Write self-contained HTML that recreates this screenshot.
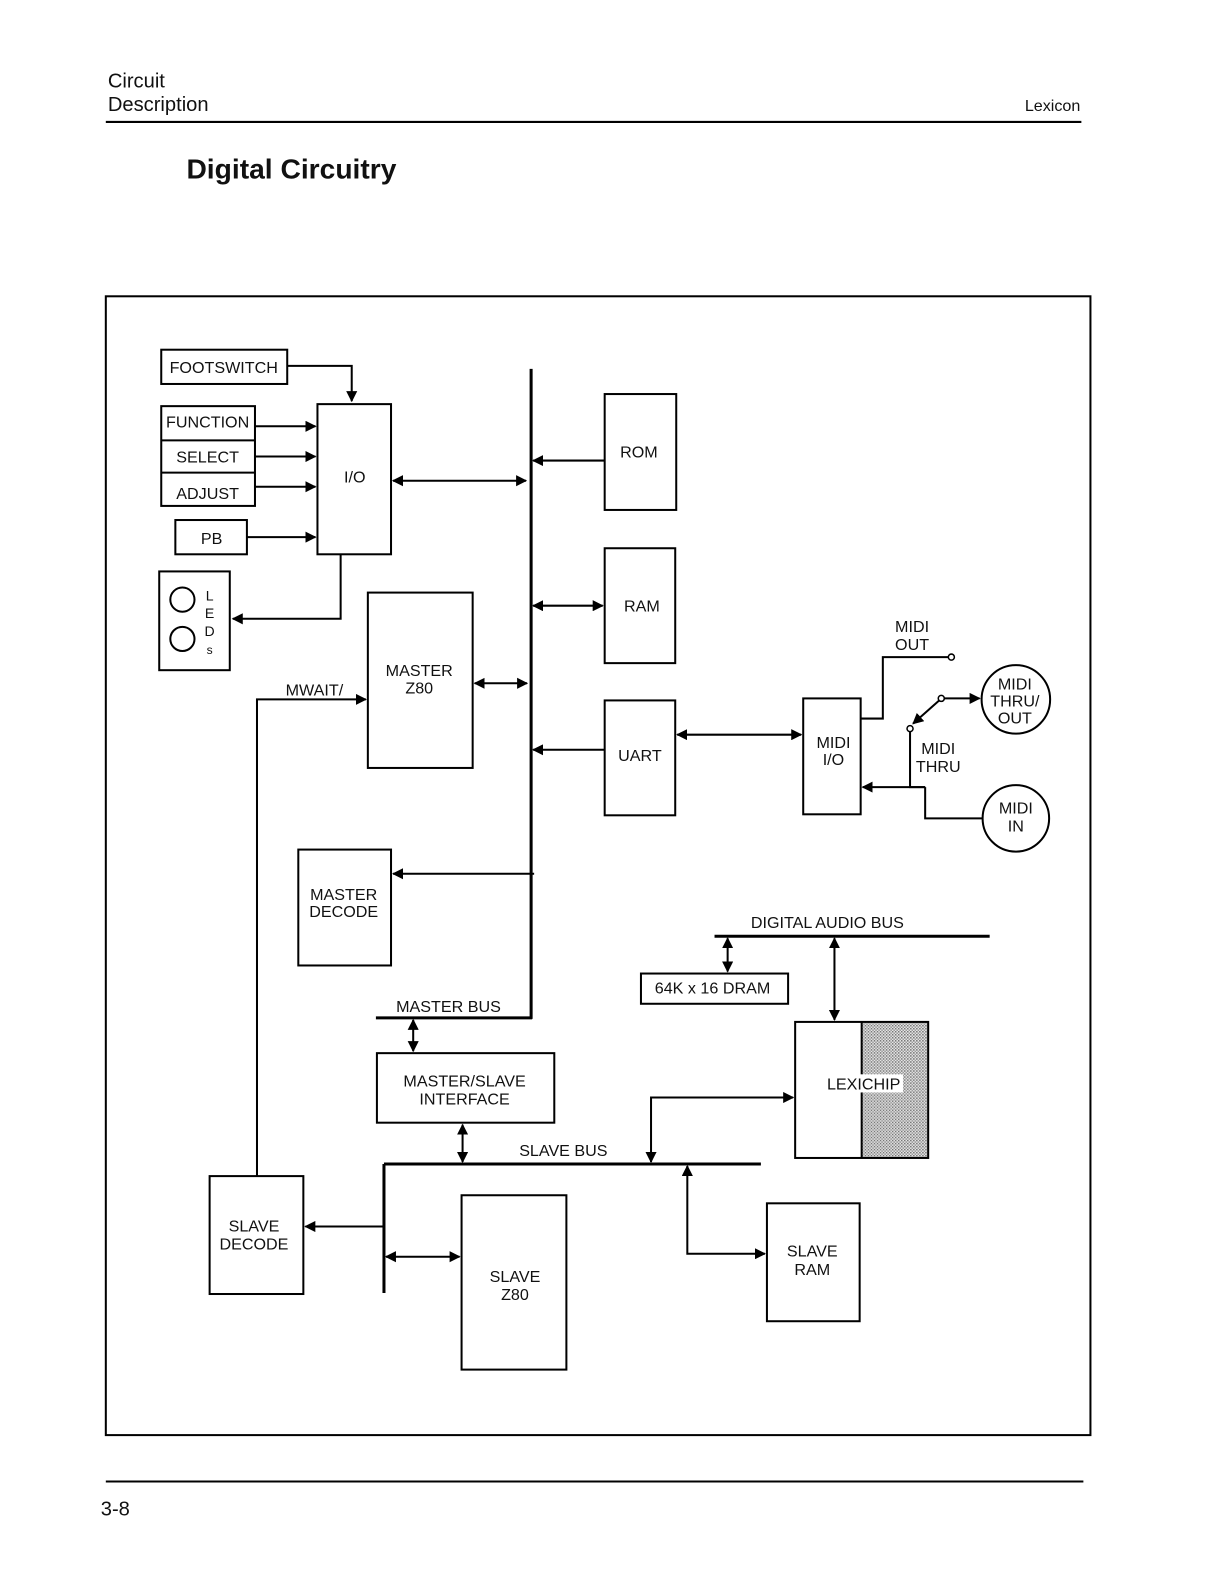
<!DOCTYPE html>
<html><head><style>html,body{margin:0;padding:0;background:#fff;overflow:hidden;width:1222px;height:1580px}svg{display:block}</style></head><body>
<svg width="1222" height="1580" viewBox="0 0 1222 1580" xmlns="http://www.w3.org/2000/svg" font-family="Liberation Sans, sans-serif">
<defs>
<marker id="a" viewBox="0 0 10 10" refX="9" refY="5" markerWidth="11" markerHeight="11" markerUnits="userSpaceOnUse" orient="auto-start-reverse"><path d="M0,0L10,5L0,10z" fill="#000"/></marker>
<pattern id="dots" width="3" height="3" patternUnits="userSpaceOnUse"><rect width="3" height="3" fill="#e6e6e6"/><rect width="1.5" height="1.5" fill="#777"/><rect x="1.5" y="1.5" width="1.5" height="1.5" fill="#999"/></pattern>
</defs>
<g transform="scale(1.0078)">
<g fill="#111">
<text x="107" y="87" font-size="20">Circuit</text>
<text x="107" y="110" font-size="20">Description</text>
<text x="1072" y="110" font-size="16" text-anchor="end">Lexicon</text>
<text x="185" y="177" font-size="28" font-weight="bold">Digital Circuitry</text>
<text x="100" y="1504" font-size="20">3-8</text>
</g>
<line x1="105" y1="121" x2="1073" y2="121" stroke="#000" stroke-width="2"/>
<line x1="105" y1="1470" x2="1075" y2="1470" stroke="#000" stroke-width="2"/>
<rect x="105" y="294" width="977" height="1130" fill="none" stroke="#000" stroke-width="2"/>

<g fill="none" stroke="#000" stroke-width="2">
<rect x="160" y="347" width="125" height="34"/>
<rect x="160" y="403" width="93" height="99"/>
<line x1="160" y1="437" x2="253" y2="437"/><line x1="160" y1="469" x2="253" y2="469"/>
<rect x="315" y="401" width="73" height="149"/>
<rect x="174" y="516" width="71" height="34"/>
<rect x="158" y="567" width="70" height="98"/>
<circle cx="181" cy="595" r="12"/><circle cx="181" cy="634" r="12"/>
<rect x="600" y="391" width="71" height="115"/>
<rect x="600" y="544" width="70" height="114"/>
<rect x="600" y="695" width="70" height="114"/>
<rect x="797" y="693" width="57" height="115"/>
<rect x="365" y="588" width="104" height="174"/>
<rect x="296" y="843" width="92" height="115"/>
<rect x="374" y="1045" width="176" height="69"/>
<rect x="208" y="1167" width="93" height="117"/>
<rect x="458" y="1186" width="104" height="173"/>
<rect x="761" y="1194" width="92" height="117"/>
<rect x="636" y="966" width="146" height="30"/>
<rect x="855" y="1014" width="66" height="135" fill="url(#dots)" stroke="none"/>
<rect x="789" y="1014" width="132" height="135"/>
<line x1="855" y1="1014" x2="855" y2="1149"/>
<circle cx="1008" cy="694" r="34"/>
<circle cx="1008" cy="812" r="33"/>
<circle cx="944" cy="652" r="3" stroke-width="1.5"/>
<circle cx="934" cy="693" r="3" stroke-width="1.5"/>
<circle cx="903" cy="723" r="3" stroke-width="1.5"/>
</g>
<g stroke="#000" stroke-width="3">
<line x1="527" y1="366" x2="527" y2="1011"/>
<line x1="373" y1="1010" x2="528" y2="1010"/>
<line x1="381" y1="1155" x2="755" y2="1155"/>
<line x1="381" y1="1155" x2="381" y2="1283"/>
<line x1="709" y1="929" x2="982" y2="929"/>
</g>
<g fill="none" stroke="#000" stroke-width="2">
<polyline points="285,363 349,363 349,398" marker-end="url(#a)"/>
<line x1="253" y1="423" x2="313" y2="423" marker-end="url(#a)"/>
<line x1="253" y1="453" x2="313" y2="453" marker-end="url(#a)"/>
<line x1="253" y1="483" x2="313" y2="483" marker-end="url(#a)"/>
<line x1="245" y1="533" x2="313" y2="533" marker-end="url(#a)"/>
<polyline points="338,550 338,614 231,614" marker-end="url(#a)"/>
<line x1="390" y1="477" x2="522" y2="477" marker-start="url(#a)" marker-end="url(#a)"/>
<line x1="600" y1="457" x2="529" y2="457" marker-end="url(#a)"/>
<line x1="529" y1="601" x2="598" y2="601" marker-start="url(#a)" marker-end="url(#a)"/>
<line x1="600" y1="744" x2="529" y2="744" marker-end="url(#a)"/>
<line x1="672" y1="729" x2="795" y2="729" marker-start="url(#a)" marker-end="url(#a)"/>
<line x1="471" y1="678" x2="523" y2="678" marker-start="url(#a)" marker-end="url(#a)"/>
<polyline points="255,1167 255,694 363,694" marker-end="url(#a)"/>
<line x1="530" y1="867" x2="390" y2="867" marker-end="url(#a)"/>
<line x1="410" y1="1012" x2="410" y2="1043" marker-start="url(#a)" marker-end="url(#a)"/>
<line x1="459" y1="1116" x2="459" y2="1153" marker-start="url(#a)" marker-end="url(#a)"/>
<line x1="381" y1="1217" x2="303" y2="1217" marker-end="url(#a)"/>
<line x1="383" y1="1247" x2="456" y2="1247" marker-start="url(#a)" marker-end="url(#a)"/>
<polyline points="759,1244 682,1244 682,1157" marker-start="url(#a)" marker-end="url(#a)"/>
<polyline points="787,1089 646,1089 646,1153" marker-start="url(#a)" marker-end="url(#a)"/>
<line x1="722" y1="931" x2="722" y2="964" marker-start="url(#a)" marker-end="url(#a)"/>
<line x1="828" y1="931" x2="828" y2="1012" marker-start="url(#a)" marker-end="url(#a)"/>
<polyline points="854,713 876,713 876,652 941,652"/>
<line x1="937" y1="693" x2="972" y2="693" marker-end="url(#a)"/>
<line x1="932" y1="695" x2="906" y2="718" marker-end="url(#a)"/>
<polyline points="903,726 903,781 918,781"/>
<line x1="918" y1="781" x2="856" y2="781" marker-end="url(#a)"/>
<polyline points="918,781 918,812 975,812"/>
</g>
<rect x="820" y="1066" width="76" height="18" fill="#fff"/>
<g fill="#111" font-size="16" text-anchor="middle">
<text x="222" y="370">FOOTSWITCH</text>
<text x="206" y="424">FUNCTION</text>
<text x="206" y="459">SELECT</text>
<text x="206" y="495">ADJUST</text>
<text x="210" y="540">PB</text>
<text x="352" y="479">I/O</text>
<text x="208" y="596" font-size="14">L</text>
<text x="208" y="613" font-size="14">E</text>
<text x="208" y="631" font-size="14">D</text>
<text x="208" y="649" font-size="12">s</text>
<text x="634" y="454">ROM</text>
<text x="637" y="607">RAM</text>
<text x="635" y="755">UART</text>
<text x="827" y="742">MIDI</text>
<text x="827" y="759">I/O</text>
<text x="416" y="671">MASTER</text>
<text x="416" y="688">Z80</text>
<text x="312" y="690">MWAIT/</text>
<text x="341" y="893">MASTER</text>
<text x="341" y="910">DECODE</text>
<text x="445" y="1004">MASTER BUS</text>
<text x="461" y="1078">MASTER/SLAVE</text>
<text x="461" y="1096">INTERFACE</text>
<text x="559" y="1147">SLAVE BUS</text>
<text x="252" y="1222">SLAVE</text>
<text x="252" y="1240">DECODE</text>
<text x="511" y="1272">SLAVE</text>
<text x="511" y="1290">Z80</text>
<text x="806" y="1247">SLAVE</text>
<text x="806" y="1265">RAM</text>
<text x="707" y="986">64K x 16 DRAM</text>
<text x="821" y="921">DIGITAL AUDIO BUS</text>
<text x="857" y="1081">LEXICHIP</text>
<text x="905" y="627">MIDI</text>
<text x="905" y="645">OUT</text>
<text x="1007" y="684">MIDI</text>
<text x="1007" y="701">THRU/</text>
<text x="1007" y="718">OUT</text>
<text x="931" y="748">MIDI</text>
<text x="931" y="766">THRU</text>
<text x="1008" y="807">MIDI</text>
<text x="1008" y="825">IN</text>
</g>
</g>
</svg>
</body></html>
